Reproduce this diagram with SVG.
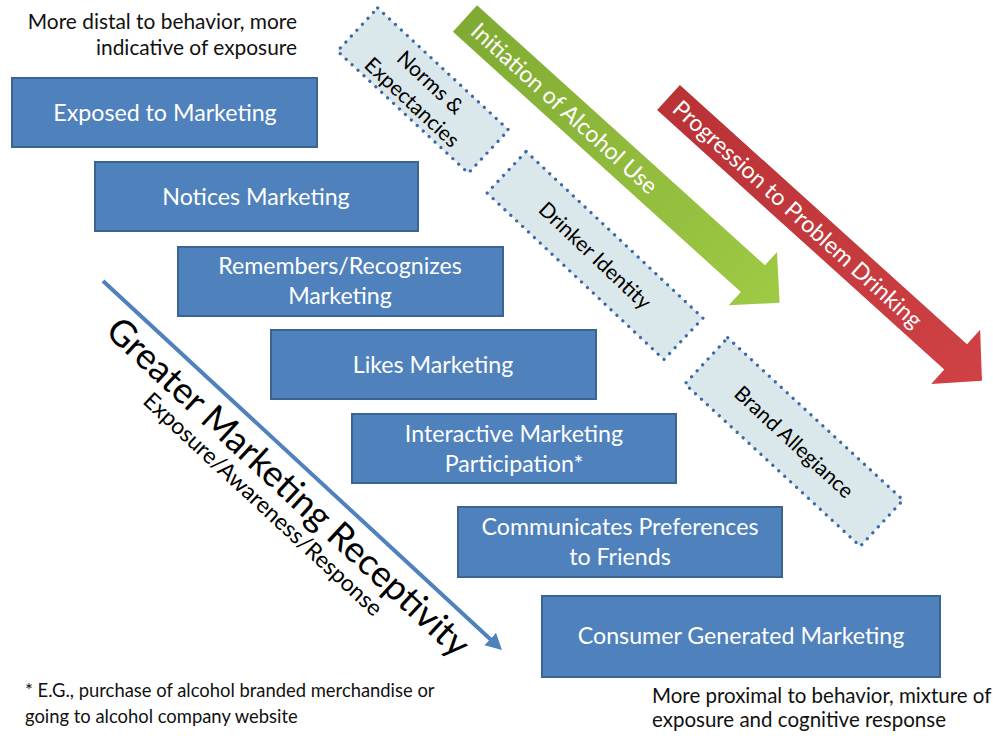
<svg xmlns="http://www.w3.org/2000/svg" width="993" height="736" viewBox="0 0 993 736">
<defs>
<style>
.box{fill:#4F81BD;stroke:#3A6493;stroke-width:2}
.bt{font-family:Lato,"Liberation Sans",sans-serif;font-size:23.2px;fill:#FFFFFF;text-anchor:middle}
.dot{fill:#DBE8EB;stroke:#3D6AA6;stroke-width:3.2;stroke-dasharray:0.1 8;stroke-linecap:round}
.dt{font-family:Lato,"Liberation Sans",sans-serif;font-size:21px;fill:#000;text-anchor:middle}
.at{font-family:Lato,"Liberation Sans",sans-serif;font-size:23px;fill:#FFFFFF;text-anchor:middle}
.note{font-family:Lato,"Liberation Sans",sans-serif;fill:#111}
</style>
<linearGradient id="gg" gradientUnits="userSpaceOnUse" x1="0" y1="0" x2="424" y2="0">
<stop offset="0" stop-color="#80AB33"/><stop offset="1" stop-color="#9FCA45"/>
</linearGradient>
<linearGradient id="rg" gradientUnits="userSpaceOnUse" x1="0" y1="0" x2="422" y2="0">
<stop offset="0" stop-color="#B93236"/><stop offset="1" stop-color="#CF4144"/>
</linearGradient>
<marker id="ah" markerUnits="userSpaceOnUse" markerWidth="20" markerHeight="20" viewBox="0 0 20 20" refX="5" refY="10" orient="auto">
<path d="M0,1.5 L16,10 L0,18.5 Z" fill="#4F81BD"/>
</marker>
</defs>
<rect width="993" height="736" fill="#FFFFFF"/>

<g id="note-top" class="note" font-size="20.9px" text-anchor="end">
<text x="297" y="29">More distal to behavior, more</text>
<text x="297" y="55">indicative of exposure</text>
</g>

<g id="arrow-initiation" transform="translate(465,18.5) rotate(42.1)">
<polygon points="0,-18 388,-18 388,-36 424,0 388,36 388,18 0,18" fill="url(#gg)"/>
<text class="at" x="134" y="0" dy="0.35em" font-size="22.5px">Initiation of Alcohol Use</text>
</g>

<g id="arrow-progression" transform="translate(668.5,97.5) rotate(42.1)">
<polygon points="0,-17 387,-17 387,-36.5 422.5,0 387,36.5 387,17 0,17" fill="url(#rg)"/>
<text class="at" x="174" y="0" dy="0.35em">Progression to Problem Drinking</text>
</g>

<g id="norms" transform="translate(423,90.5) rotate(43)">
<rect class="dot" x="-89.5" y="-29.5" width="179" height="59"/>
<text class="dt" x="0" y="-11" dy="0.35em">Norms &amp;</text>
<text class="dt" x="0" y="16" dy="0.35em">Expectancies</text>
</g>

<g id="drinker" transform="translate(595,255.5) rotate(43.3)">
<rect class="dot" x="-121.5" y="-28.5" width="243" height="57"/>
<text class="dt" x="0" y="0" dy="0.35em">Drinker Identity</text>
</g>

<g id="brand" transform="translate(794,442) rotate(42.8)">
<rect class="dot" x="-119.5" y="-31.5" width="239" height="63"/>
<text class="dt" x="0" y="0" dy="0.35em">Brand Allegiance</text>
</g>

<g id="exposed">
<rect class="box" x="12" y="78" width="305" height="69"/>
<text class="bt" x="165" y="121">Exposed to Marketing</text>
</g>
<g id="notices">
<rect class="box" x="95" y="162" width="323" height="69"/>
<text class="bt" x="256" y="205">Notices Marketing</text>
</g>
<g id="remembers">
<rect class="box" x="178" y="247" width="325" height="69"/>
<text class="bt" x="340" y="274">Remembers/Recognizes</text>
<text class="bt" x="340" y="304">Marketing</text>
</g>
<g id="likes">
<rect class="box" x="271" y="330" width="325" height="69"/>
<text class="bt" x="433" y="373">Likes Marketing</text>
</g>
<g id="interactive">
<rect class="box" x="352" y="414" width="324" height="69"/>
<text class="bt" x="514" y="442">Interactive Marketing</text>
<text class="bt" x="514" y="472">Participation*</text>
</g>
<g id="communicates">
<rect class="box" x="458" y="507" width="324" height="70"/>
<text class="bt" x="620" y="535">Communicates Preferences</text>
<text class="bt" x="620" y="565">to Friends</text>
</g>
<g id="consumer">
<rect class="box" x="542" y="596" width="398" height="81"/>
<text class="bt" x="741" y="644">Consumer Generated Marketing</text>
</g>

<g id="connectors">
<line x1="103" y1="281" x2="493.9" y2="642.5" stroke="#4F81BD" stroke-width="4" marker-end="url(#ah)"/>
</g>

<g id="receptivity-label" transform="translate(103,281) rotate(42.8)">
<text x="276" y="25" dy="0.35em" font-family="Lato,'Liberation Sans',sans-serif" font-size="36.3px" fill="#000" text-anchor="middle">Greater Marketing Receptivity</text>
<text x="269" y="55" dy="0.35em" font-family="Lato,'Liberation Sans',sans-serif" font-size="22.8px" fill="#000" text-anchor="middle">Exposure/Awareness/Response</text>
</g>

<g id="note-footnote" class="note" font-size="18.4px">
<text x="25" y="697">* E.G., purchase of alcohol branded merchandise or</text>
<text x="25" y="723">going to alcohol company website</text>
</g>

<g id="note-bottom" class="note" font-size="20.5px">
<text x="652" y="703">More proximal to behavior, mixture of</text>
<text x="652" y="727">exposure and cognitive response</text>
</g>
</svg>
